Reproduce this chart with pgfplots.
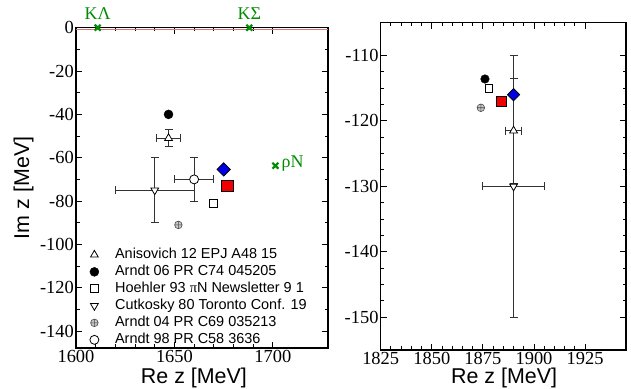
\documentclass[border=0pt]{standalone}
\usepackage{pgfplots}
\pgfplotsset{compat=1.18}
\usepackage{fontspec}
\setmainfont{Liberation Serif}
\newfontfamily\arial{Liberation Sans}
\newfontfamily\tnr{Liberation Serif}
\definecolor{ggreen}{RGB}{0,140,0}
\definecolor{ebar}{RGB}{50,50,50}
\definecolor{topred}{RGB}{215,120,120}
\definecolor{bblue}{RGB}{0,0,230}
\definecolor{rred}{RGB}{240,0,0}
\pgfplotsset{
  common/.style={
    scale only axis,
    axis line style={line width=1.3bp},
    every tick/.style={black, line width=1bp},
    major tick length=6bp, minor tick length=3.5bp,
    tick align=inside, tick pos=both,
    xticklabel style={font=\tnr\fontsize{18.5}{18.5}\selectfont, inner sep=2bp},
    yticklabel style={font=\tnr\fontsize{18.5}{18.5}\selectfont, inner sep=2bp},
    xlabel style={font=\arial\fontsize{21.5}{21.5}\selectfont, inner sep=0pt},
    ylabel style={font=\arial\fontsize{21.5}{21.5}\selectfont, inner sep=0pt},
  },
  vbar/.style={ebar, line width=0.9bp, mark=-, mark size=4bp, mark options={solid, ebar, line width=0.9bp}, forget plot},
  hbar/.style={ebar, line width=0.9bp, mark=|, mark size=4bp, mark options={solid, ebar, line width=0.9bp}, forget plot},
}
\begin{document}
\begin{tikzpicture}
\useasboundingbox (0,0) rectangle (631bp,389bp);
% ---------------- left panel ----------------
\begin{axis}[common, at={(76bp,41bp)}, anchor=south west,
  width=252bp, height=320.3bp,
  xmin=1600, xmax=1728, ymin=-147.8, ymax=0,
  xtick={1600,1650,1700}, xticklabels={{\tnr 1600},{\tnr 1650},{\tnr 1700}}, minor x tick num=4,
  ytick={-140,-120,-100,-80,-60,-40,-20,0},
  yticklabels={{\tnr -140},{\tnr -120},{\tnr -100},{\tnr -80},{\tnr -60},{\tnr -40},{\tnr -20},{\tnr 0}}, minor y tick num=1,
  xlabel={Re z [MeV]}, ylabel={Im z [MeV]},
  xlabel style={at={(axis description cs:0.468,-0.093)}, anchor=center},
  ylabel style={at={(axis description cs:-0.208,0.5)}, anchor=center},
  clip=false,
  legend style={at={(axis description cs:0.0476,0.318)}, anchor=north west,
    draw=none, fill=none, inner sep=0pt, column sep=13bp, row sep=0pt,
    font=\arial\fontsize{14.5}{14.5}\selectfont,
    nodes={inner sep=1.5bp, text height=10.5bp, text depth=3.5bp}},
  legend cell align=left,
  legend image code/.code={\path (-6bp,0) (6bp,0); \draw[#1] plot coordinates {(0bp,0bp)};},
]
\addplot[topred, line width=0.7bp, forget plot] coordinates {(1600,-0.7) (1728,-0.7)};
% error bars
\addplot[hbar] coordinates {(1620,-75) (1660,-75)};
\addplot[vbar] coordinates {(1640,-60) (1640,-90)};
\addplot[hbar] coordinates {(1650,-70) (1670,-70)};
\addplot[vbar] coordinates {(1660,-60) (1660,-80)};
\addplot[hbar] coordinates {(1641,-51) (1653,-51)};
\addplot[vbar] coordinates {(1647,-47) (1647,-55)};
% points
\addplot[only marks, mark=triangle*, mark size=4.5bp, mark options={fill=white, draw=black, line width=0.8bp, rotate=180}, forget plot]
  coordinates {(1640,-75)};
\addplot[only marks, mark=*, mark size=4.5bp, mark options={fill=white, draw=black, line width=0.8bp}, forget plot]
  coordinates {(1660,-70)};
\addplot[only marks, mark=triangle*, mark size=4.5bp, mark options={fill=white, draw=black, line width=0.8bp}, forget plot]
  coordinates {(1647,-51)};
\addplot[only marks, mark=*, mark size=4.5bp, mark options={fill=black, draw=black}, forget plot]
  coordinates {(1647,-40)};
\addplot[only marks, mark=square*, mark size=4bp, mark options={fill=white, draw=black, line width=0.8bp}, forget plot]
  coordinates {(1670,-81)};
\addplot[only marks, mark=oplus*, mark size=3.8bp, mark options={fill=gray!45, draw=gray!60!black, line width=0.6bp}, forget plot]
  coordinates {(1652,-91)};
\addplot[only marks, mark=square*, mark size=4.7bp, mark options={fill=bblue, draw=black, line width=0.8bp, rotate=45}, forget plot]
  coordinates {(1675,-65.4)};
\addplot[only marks, mark=square*, mark size=5.8bp, mark options={fill=rred, draw=black, line width=0.8bp}, forget plot]
  coordinates {(1677,-73)};
% thresholds
\addplot[only marks, mark=x, mark size=4.2bp, mark options={ggreen, line width=2.2bp}, forget plot]
  coordinates {(1611,0) (1688,0) (1701.3,-63.7)};
\node[ggreen, anchor=base, yshift=8bp, font=\tnr\fontsize{18}{18}\selectfont] at (axis cs:1611,0) {KΛ};
\node[ggreen, anchor=base, yshift=8bp, font=\tnr\fontsize{18}{18}\selectfont] at (axis cs:1688,0) {KΣ};
\node[ggreen, anchor=base west, xshift=6bp, yshift=-2bp, inner sep=0pt, font=\tnr\fontsize{18}{18}\selectfont] at (axis cs:1701.3,-63.7) {ρN};
% legend
\addlegendimage{only marks, mark=triangle, mark size=4.5bp, mark options={black, line width=0.8bp}}
\addlegendentry{Anisovich 12 EPJ A48 15}
\addlegendimage{only marks, mark=*, mark size=4.5bp, mark options={fill=black, draw=black}}
\addlegendentry{Arndt 06 PR C74 045205}
\addlegendimage{only marks, mark=square, mark size=4bp, mark options={black, line width=0.8bp}}
\addlegendentry{Hoehler 93 {\tnr π}N Newsletter 9 1}
\addlegendimage{only marks, mark=triangle, mark size=4.5bp, mark options={black, line width=0.8bp, rotate=180}}
\addlegendentry{Cutkosky 80 Toronto Conf. 19}
\addlegendimage{only marks, mark=oplus*, mark size=3.8bp, mark options={fill=gray!45, draw=gray!60!black, line width=0.6bp}}
\addlegendentry{Arndt 04 PR C69 035213}
\addlegendimage{only marks, mark=o, mark size=4.5bp, mark options={black, line width=0.8bp}}
\addlegendentry{Arndt 98 PR C58 3636}
\end{axis}
% ---------------- right panel ----------------
\begin{axis}[common, at={(380.7bp,39bp)}, anchor=south west,
  width=245.3bp, height=327.3bp,
  xmin=1825, xmax=1945, ymin=-155, ymax=-105,
  xtick={1825,1850,1875,1900,1925},
  xticklabels={{\tnr 1825},{\tnr 1850},{\tnr 1875},{\tnr 1900},{\tnr 1925}}, minor x tick num=4,
  ytick={-150,-140,-130,-120,-110},
  yticklabels={{\tnr -150},{\tnr -140},{\tnr -130},{\tnr -120},{\tnr -110}}, minor y tick num=3,
  xlabel={Re z [MeV]},
  xlabel style={at={(axis description cs:0.503,-0.086)}, anchor=center},
]
\addplot[vbar] coordinates {(1890,-110) (1890,-150)};
\addplot[hbar] coordinates {(1875,-130) (1905,-130)};
\addplot[vbar] coordinates {(1890,-113.5) (1890,-129.5)};
\addplot[hbar] coordinates {(1886,-121.5) (1894,-121.5)};
\addplot[only marks, mark=triangle*, mark size=4.5bp, mark options={fill=white, draw=black, line width=0.8bp, rotate=180}]
  coordinates {(1890,-130)};
\addplot[only marks, mark=triangle*, mark size=4.5bp, mark options={fill=white, draw=black, line width=0.8bp}]
  coordinates {(1890,-121.5)};
\addplot[only marks, mark=*, mark size=4.3bp, mark options={fill=black, draw=black}]
  coordinates {(1876,-113.6)};
\addplot[only marks, mark=square*, mark size=3.8bp, mark options={fill=white, draw=black, line width=0.8bp}]
  coordinates {(1878,-115)};
\addplot[only marks, mark=oplus*, mark size=3.8bp, mark options={fill=gray!45, draw=gray!60!black, line width=0.6bp}]
  coordinates {(1874,-118)};
\addplot[only marks, mark=square*, mark size=5.3bp, mark options={fill=rred, draw=black, line width=0.8bp}]
  coordinates {(1884,-117)};
\addplot[only marks, mark=square*, mark size=4.3bp, mark options={fill=bblue, draw=black, line width=0.8bp, rotate=45}]
  coordinates {(1890,-116)};
\end{axis}
\end{tikzpicture}
\end{document}
